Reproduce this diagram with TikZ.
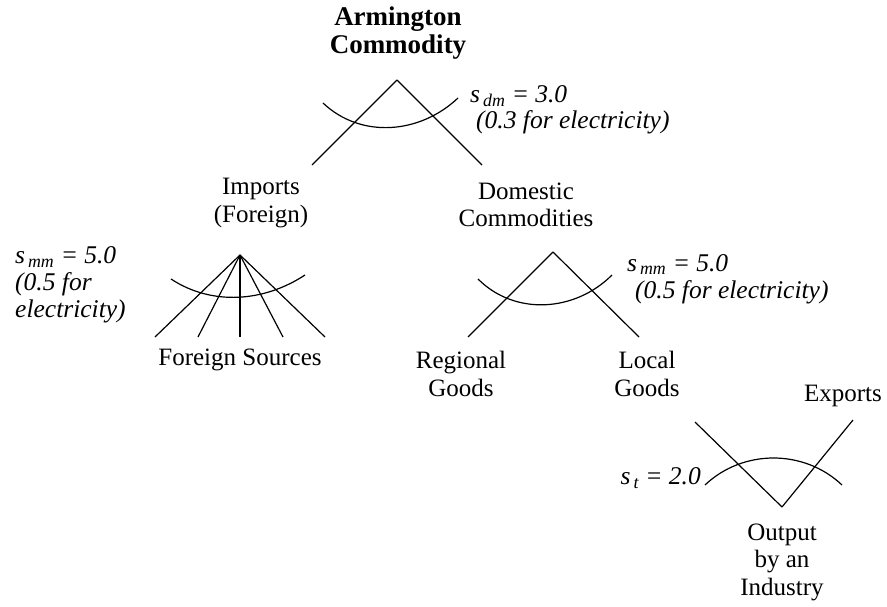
\documentclass[tikz,border=0pt]{standalone}
\usepackage{fontspec}
\setmainfont{Liberation Serif}
\usetikzlibrary{positioning}

\begin{document}
\begin{tikzpicture}[
  x=1pt, y=-1pt,
  label/.style={align=center, inner sep=0pt, font=\fontsize{25}{27.5}\selectfont},
  elast/.style={align=left, inner sep=0pt, font=\fontsize{25.5}{27}\selectfont\itshape},
  leg/.style={line width=1.2pt},
  curve/.style={line width=1.2pt}
]
\useasboundingbox (0,0) rectangle (887,607);

% top nest
\node[label, font=\fontsize{27}{28}\selectfont\bfseries] (arm) at (398,33) {Armington\\Commodity};
\coordinate (armtop) at (397,80);
\coordinate (armleft) at (312,165);
\coordinate (armright) at (482,165);
\draw[leg] (armtop) -- (armleft);
\draw[leg] (armtop) -- (armright);
\draw[curve] (323,103) .. controls (361,139) and (420,134) .. (458,98);
\node[elast, anchor=west] (sdm) at (470,110) {s\textsubscript{\,dm} = 3.0\\[-1pt]\hspace{6pt}(0.3 for electricity)};

% imports
\node[label] (imp) at (261,203) {Imports\\(Foreign)};
\coordinate (imptop) at (240,255);
\foreach \x [count=\i] in {155,198,240,283,325}
  \coordinate (impend\i) at (\x,337);
\foreach \i in {1,...,5}
  \draw[leg] (imptop) -- (impend\i);
\draw[curve] (171,279) .. controls (212,306) and (264,302) .. (305,275);
\node[elast, anchor=west] (smmimp) at (15,285) {s\textsubscript{\,mm} = 5.0\\(0.5 for\\electricity)};
\node[label] (fs) at (240,360) {Foreign Sources};

% domestic
\node[label] (dom) at (526,205) {Domestic\\Commodities};
\coordinate (domtop) at (553,252);
\coordinate (domleft) at (468,337);
\coordinate (domright) at (639,337);
\draw[leg] (domtop) -- (domleft);
\draw[leg] (domtop) -- (domright);
\draw[curve] (478,279) .. controls (515,316) and (575,312) .. (612,275);
\node[elast, anchor=west] (smmdom) at (627,279) {s\textsubscript{\,mm} = 5.0\\\hspace{8pt}(0.5 for electricity)};
\node[label] (reg) at (461,374) {Regional\\Goods};
\node[label] (loc) at (647,374) {Local\\Goods};

% output split
\node[label] (exp) at (843,396) {Exports};
\coordinate (outbot) at (782,507);
\coordinate (outleft) at (695,422);
\coordinate (outright) at (853,420);
\draw[leg] (outbot) -- (outleft);
\draw[leg] (outbot) -- (outright);
\draw[curve] (705,485) .. controls (743,449) and (804,449) .. (842,485);
\node[elast, anchor=east] (st) at (701,478) {s\textsubscript{\,t} = 2.0};
\node[label] (out) at (782,562) {Output\\by an\\Industry};
\end{tikzpicture}
\end{document}
